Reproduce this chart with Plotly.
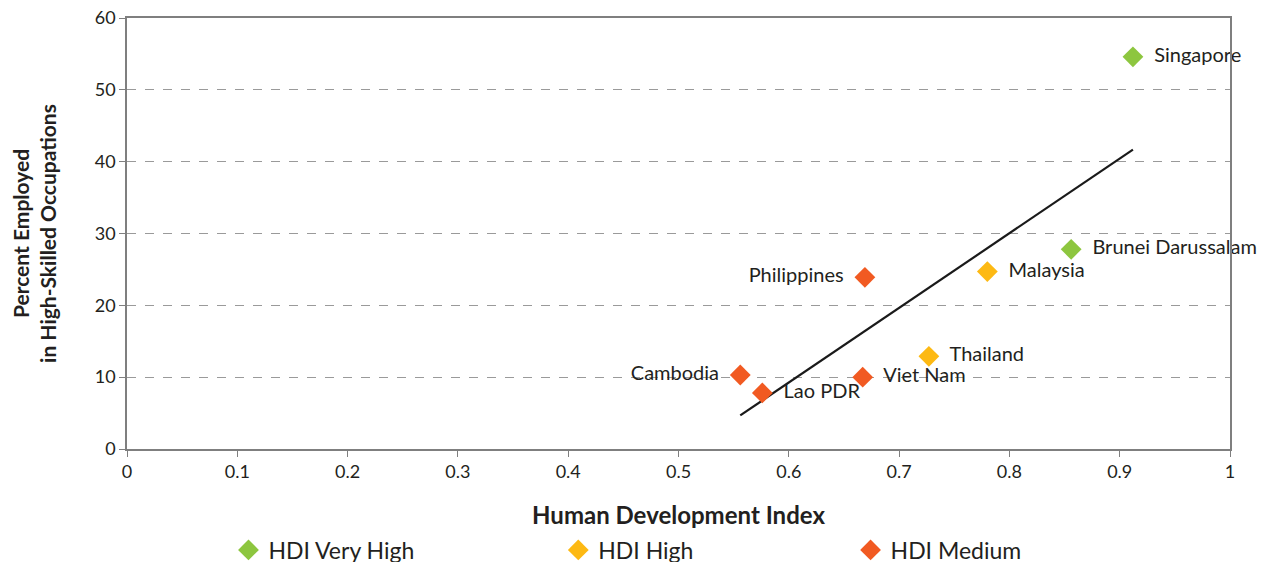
"""HDI vs share employed in high-skilled occupations, ASEAN countries."""

import numpy as np
import plotly.graph_objects as go

FONT = "Lato, 'Open Sans', sans-serif"
TEXT_COLOR = "#231f20"
AXIS_COLOR = "#7f7f7f"

# data
VERY_HIGH_NAMES = ["Singapore", "Brunei Darussalam"]
VERY_HIGH_HDI = [0.912, 0.856]
VERY_HIGH_PCT = [54.6, 27.8]

HIGH_NAMES = ["Malaysia", "Thailand"]
HIGH_HDI = [0.780, 0.727]
HIGH_PCT = [24.7, 12.9]

MEDIUM_NAMES = ["Philippines", "Viet Nam", "Cambodia", "Lao PDR"]
MEDIUM_HDI = [0.669, 0.667, 0.556, 0.576]
MEDIUM_PCT = [23.9, 10.0, 10.3, 7.8]

LEFT_LABELS = {"Philippines", "Cambodia"}

GROUPS = [
    ("HDI Very High", VERY_HIGH_NAMES, VERY_HIGH_HDI, VERY_HIGH_PCT, "#8dc63f", "legend"),
    ("HDI High", HIGH_NAMES, HIGH_HDI, HIGH_PCT, "#fdb913", "legend2"),
    ("HDI Medium", MEDIUM_NAMES, MEDIUM_HDI, MEDIUM_PCT, "#f15a22", "legend3"),
]

fig = go.Figure()

# linear trend over all countries
all_x = np.array(VERY_HIGH_HDI + HIGH_HDI + MEDIUM_HDI)
all_y = np.array(VERY_HIGH_PCT + HIGH_PCT + MEDIUM_PCT)
slope, icpt = np.polyfit(all_x, all_y, 1)
tx = np.array([all_x.min(), all_x.max()])
fig.add_trace(go.Scatter(x=tx, y=slope * tx + icpt, mode="lines",
                         line=dict(color="#1a1a1a", width=2.2),
                         showlegend=False, hoverinfo="skip"))

for name, labels, xs, ys, color, leg in GROUPS:
    pos = ["middle left" if l in LEFT_LABELS else "middle right" for l in labels]
    fig.add_trace(go.Scatter(
        x=xs, y=ys, mode="markers+text", name=name, legend=leg,
        text=["  " + l + "  " for l in labels], textposition=pos,
        textfont=dict(family=FONT, size=20, color=TEXT_COLOR),
        marker=dict(symbol="diamond", size=16, color=color),
        cliponaxis=False))

# page body has an 8px margin, so the figure starts at (8, 8)
leg_common = dict(orientation="h", yanchor="middle", y=-0.2315, xanchor="left",
                  font=dict(family=FONT, size=23, color=TEXT_COLOR),
                  bgcolor="rgba(0,0,0,0)")

fig.update_layout(
    width=1259, height=572,
    margin=dict(l=119, r=37, t=10, b=130),
    plot_bgcolor="white", paper_bgcolor="white",
    font=dict(family=FONT, color=TEXT_COLOR),
    legend=dict(x=0.092, **leg_common),
    legend2=dict(x=0.391, **leg_common),
    legend3=dict(x=0.656, **leg_common),
)
fig.update_xaxes(
    range=[0, 1], tickvals=[i / 10 for i in range(11)],
    ticktext=["0", "0.1", "0.2", "0.3", "0.4", "0.5", "0.6", "0.7", "0.8", "0.9", "1"],
    ticks="outside", ticklen=6, tickcolor=AXIS_COLOR,
    showline=True, linecolor=AXIS_COLOR, linewidth=1.5, mirror=True,
    showgrid=False, zeroline=False, automargin=False,
    tickfont=dict(family=FONT, size=18, color=TEXT_COLOR),
    title=dict(text="<b>Human Development Index</b>",
               font=dict(family=FONT, size=24, color=TEXT_COLOR), standoff=26))
fig.update_yaxes(
    range=[0, 60], tickvals=list(range(0, 61, 10)),
    ticks="outside", ticklen=6, tickcolor=AXIS_COLOR,
    showline=True, linecolor=AXIS_COLOR, linewidth=1.5, mirror=True,
    showgrid=True, gridcolor="#9a9a9a", griddash="dash", gridwidth=1,
    zeroline=False, automargin=False, ticklabeloverflow="allow",
    tickfont=dict(family=FONT, size=18, color=TEXT_COLOR),
    title=dict(text="<b>Percent Employed<br>in High-Skilled Occupations</b>",
               font=dict(family=FONT, size=21, color=TEXT_COLOR), standoff=36))

fig.write_html("out.html")
